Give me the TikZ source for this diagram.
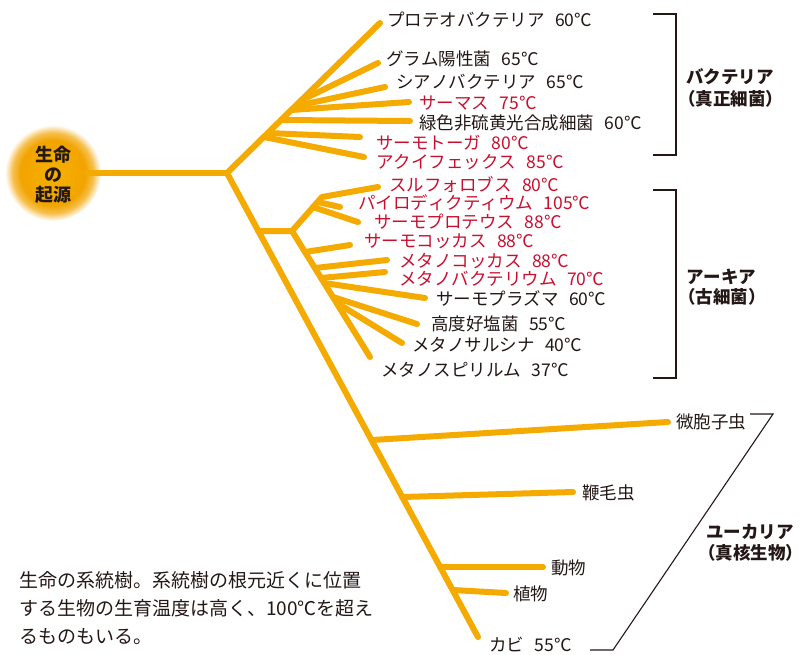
\documentclass[tikz,border=0pt]{standalone}
\usepackage{fontspec}
\setmainfont{Noto Sans CJK JP}[Kerning=Off]
\definecolor{orng}{RGB}{245,170,0}
\definecolor{redtxt}{RGB}{200,16,46}
\definecolor{ink}{RGB}{35,24,21}
\definecolor{glowin}{RGB}{246,176,0}
\definecolor{glowmid}{RGB}{242,164,0}
\pgfdeclareradialshading{glowshade}{\pgfpoint{0bp}{0bp}}{color(0bp)=(glowin); color(17bp)=(glowmid); color(21bp)=(glowmid!70!white); color(25bp)=(white); color(50bp)=(white)}
\newcommand\tgap{\hspace{0.6em}}
\tikzset{
  br/.style={draw=orng, line width=6pt, line cap=round, line join=round},
  lab/.style={anchor=west, inner sep=0pt, font=\fontsize{17.5}{20}\selectfont, text=ink},
  hot/.style={lab, text=redtxt},
  grp/.style={anchor=west, inner sep=0pt, font=\fontsize{17.5}{20}\selectfont\bfseries, text=ink},
  brk/.style={draw=ink, line width=1.1pt},
  captxt/.style={anchor=west, inner sep=0pt, font=\fontsize{19}{28.5}\selectfont, text=ink},
}
\begin{document}
\begin{tikzpicture}[x=1pt,y=-1pt]
\useasboundingbox (0,0) rectangle (802,654);
% origin circle
\shade[shading=glowshade] (53,173) circle (48);
\node[inner sep=0pt, align=center, font=\fontsize{18}{20}\selectfont\bfseries, text=ink] (origin) at (53,175) {生命\\の\\起源};
% tree coordinates
\coordinate (o1) at (87,173);
\coordinate (R) at (227,173);
\coordinate (Btip) at (380,23);
\coordinate (K) at (478,637);
% bacteria branches
\coordinate (gpS) at (302,100); \coordinate (gpT) at (378,63);
\coordinate (cyS) at (296,106); \coordinate (cyT) at (385,87);
\coordinate (thS) at (291,110); \coordinate (thT) at (409,102);
\coordinate (grS) at (281,120); \coordinate (grT) at (410,121);
\coordinate (tgS) at (268,133); \coordinate (tgT) at (360,137);
\coordinate (aqS) at (264,137); \coordinate (aqT) at (364,157);
% archaea
\coordinate (A0) at (258,231);
\coordinate (A1) at (292,231);
\coordinate (A2) at (322,197);
\coordinate (suT) at (378,187);
\coordinate (pyS) at (318,202); \coordinate (pyT) at (340,207);
\coordinate (tpS) at (313,207); \coordinate (tpT) at (358,222);
\coordinate (msT) at (370,357);
\coordinate (tcS) at (305,252); \coordinate (tcT) at (350,245);
\coordinate (mcS) at (315,268); \coordinate (mcT) at (387,260);
\coordinate (mbS) at (321,278); \coordinate (mbT) at (385,272);
\coordinate (tmS) at (324,283); \coordinate (tmT) at (425,298);
\coordinate (haS) at (333,297); \coordinate (haT) at (417,324);
\coordinate (saS) at (337,303); \coordinate (saT) at (402,343);
% eukarya
\coordinate (miS) at (372,440); \coordinate (miT) at (668,422);
\coordinate (flS) at (402,497); \coordinate (flT) at (573,492);
\coordinate (anS) at (440,567); \coordinate (anT) at (543,567);
\coordinate (plS) at (453,590); \coordinate (plT) at (506,593);
% draw tree
\draw[br] (o1) -- (R);
\draw[br] (R) -- (Btip);
\draw[br] (R) -- (K);
\foreach \p in {gp,cy,th,gr,tg,aq,py,tp,tc,mc,mb,tm,ha,sa,mi,fl,an,pl}{\draw[br] (\p S) -- (\p T);}
\draw[br] (A0) -- (A1) -- (A2) -- (suT);
\draw[br] (A1) -- (msT);
% bacteria labels
\node[lab] (l1) at (387,20) {プロテオバクテリア\tgap60℃};
\node[lab] (l2) at (386,59) {グラム陽性菌\tgap65℃};
\node[lab] (l3) at (396,82) {シアノバクテリア\tgap65℃};
\node[hot] (l4) at (419,103) {サーマス\tgap75℃};
\node[lab] (l5) at (419,123) {緑色非硫黄光合成細菌\tgap60℃};
\node[hot] (l6) at (376,143) {サーモトーガ\tgap80℃};
\node[hot] (l7) at (376,162) {アクイフェックス\tgap85℃};
% archaea labels
\node[hot] (m1) at (389,185) {スルフォロブス\tgap80℃};
\node[hot] (m2) at (358,203) {パイロディクティウム\tgap105℃};
\node[hot] (m3) at (374,222) {サーモプロテウス\tgap88℃};
\node[hot] (m4) at (364,241) {サーモコッカス\tgap88℃};
\node[hot] (m5) at (399,261) {メタノコッカス\tgap88℃};
\node[hot] (m6) at (399,279) {メタノバクテリウム\tgap70℃};
\node[lab] (m7) at (436,298) {サーモプラズマ\tgap60℃};
\node[lab] (m8) at (431,324) {高度好塩菌\tgap55℃};
\node[lab] (m9) at (412,345) {メタノサルシナ\tgap40℃};
\node[lab] (m10) at (381,370) {メタノスピリルム\tgap37℃};
% eukarya labels
\node[lab] (e1) at (676,422) {微胞子虫};
\node[lab] (e2) at (582,493) {鞭毛虫};
\node[lab] (e3) at (551,568) {動物};
\node[lab] (e4) at (513,594) {植物};
\node[lab] (e5) at (489,645) {カビ\tgap55℃};
% brackets
\coordinate (b1a) at (653,14); \coordinate (b1b) at (676,14); \coordinate (b1c) at (676,155); \coordinate (b1d) at (653,155);
\draw[brk] (b1a) -- (b1b) -- (b1c) -- (b1d);
\coordinate (b2a) at (653,190); \coordinate (b2b) at (676,190); \coordinate (b2c) at (676,378); \coordinate (b2d) at (653,378);
\draw[brk] (b2a) -- (b2b) -- (b2c) -- (b2d);
\coordinate (b3a) at (750,414); \coordinate (b3b) at (773,414); \coordinate (b3c) at (613,650); \coordinate (b3d) at (590,650);
\draw[brk] (b3a) -- (b3b) -- (b3c) -- (b3d);
% group labels
\node[grp] (g1) at (686,77) {バクテリア};
\node[grp] (g1b) at (678,99) {（真正細菌）};
\node[grp] (g2) at (686,277) {アーキア};
\node[grp] (g2b) at (678,297) {（古細菌）};
\node[grp] (g3) at (706,532) {ユーカリア};
\node[grp] (g3b) at (698,553) {（真核生物）};
% caption
\node[captxt] (c1) at (19,580) {生命の系統樹。系統樹の根元近くに位置};
\node[captxt] (c2) at (19,608) {する生物の生育温度は高く、100℃を超え};
\node[captxt] (c3) at (19,637) {るものもいる。};
\end{tikzpicture}
\end{document}
